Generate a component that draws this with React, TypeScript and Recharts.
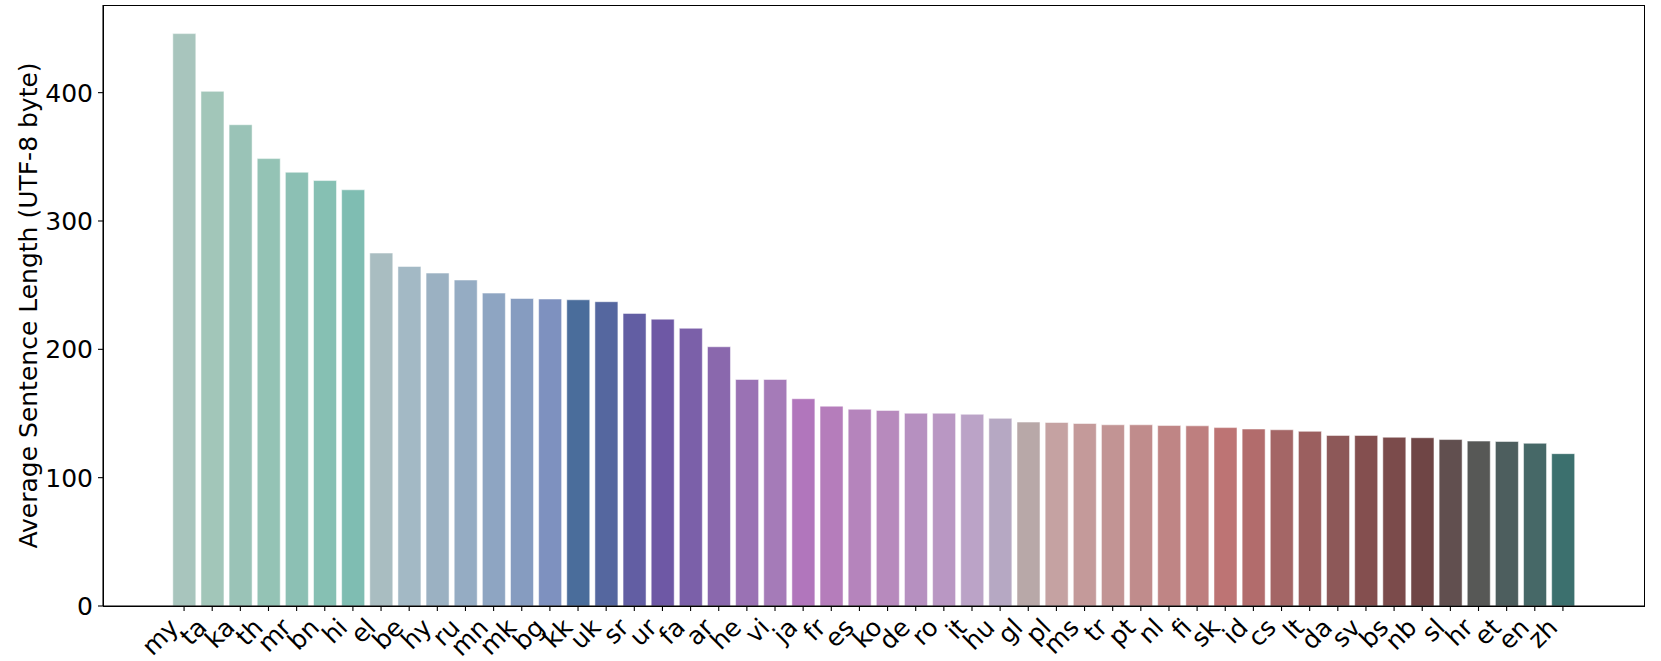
import { Bar, BarChart, Cell, XAxis, YAxis } from "recharts"

const LANGS = [
  "my", "ta", "ka", "th", "mr", "bn", "hi", "el", "be", "hy",
  "ru", "mn", "mk", "bg", "kk", "uk", "sr", "ur", "fa", "ar",
  "he", "vi", "ja", "fr", "es", "ko", "de", "ro", "it", "hu",
  "gl", "pl", "ms", "tr", "pt", "nl", "fi", "sk", "id", "cs",
  "lt", "da", "sv", "bs", "nb", "sl", "hr", "et", "en", "zh",
]

const LENGTHS = [
  446, 401, 375, 348.6, 338, 331.5, 324.3, 275, 264.6, 259.4,
  254, 243.8, 239.6, 239.2, 238.6, 237.1, 228, 223.5, 216.4, 202,
  176.5, 176.5, 161.5, 155.7, 153.3, 152.4, 150.2, 150.2, 149.4, 146.2,
  143.3, 143, 142.2, 141.2, 141.2, 140.6, 140.4, 139, 137.9, 137.3,
  136.1, 132.9, 132.9, 131.5, 131.1, 129.7, 128.5, 128.2, 126.8, 118.7,
]

const Y_TICKS = [0, 100, 200, 300, 400]

const PALETTE = [
  "#a8c5bd", "#a2c6b9", "#9ac3b7", "#94c3b5", "#8cc0b4", "#86c0b3", "#7fbdb2",
  "#a9bdc1", "#a3b9c5", "#9bb1c2", "#95acc3", "#8ea5c2", "#869cc0", "#7e91bf",
  "#4a6d9b", "#55679f", "#625ea3", "#6e58a5", "#7b60a9", "#8a68ad", "#9a72b4",
  "#a57bb8", "#b176bc", "#b57dbb", "#b584bc", "#b78abd", "#b690c0", "#b997c3",
  "#bba3c7", "#b6a8c3", "#b8a8a8", "#c5a2a2", "#c49a9a", "#c29494", "#c08c8c",
  "#bf8585", "#be7f7f", "#bd7474", "#b26c6c", "#a46666", "#9b5f5f", "#8d5858",
  "#844f4f", "#7b4b4b", "#6f4545", "#614f4f", "#575856", "#4d5e5e", "#466867",
  "#3c706e",
]

const FONT = "DejaVu Sans"
const data = LANGS.map((lang, i) => ({ lang, value: LENGTHS[i] }))

// plot box, same numbers as the chart margins / axis sizes below
const PLOT = { left: 103, top: 5, width: 1541, height: 601 }

function LangTick({ x, y, payload }: any) {
  return (
    <g transform={`translate(${x - 4},${y + 13})`}>
      <text
        transform="rotate(-45)"
        textAnchor="end"
        fontFamily={FONT}
        fontSize={25}
        fill="#000"
      >
        {payload.value}
      </text>
    </g>
  )
}

export default function App() {
  return (
    <div style={{ position: "absolute", left: 0, top: 0, background: "#fff" }}>
      <BarChart
        width={1661}
        height={661}
        data={data}
        margin={{ top: PLOT.top, right: 17, bottom: 0, left: 0 }}
        barCategoryGap="10%"
      >
        <XAxis
          dataKey="lang"
          interval={0}
          height={55}
          padding={{ left: 67, right: 67 }}
          tickSize={5}
          tickMargin={5}
          tick={<LangTick />}
          axisLine={{ stroke: "#000", strokeWidth: 1.1 }}
          tickLine={{ stroke: "#000", strokeWidth: 1.1 }}
        />
        <YAxis
          width={PLOT.left}
          domain={[0, 468.3]}
          ticks={Y_TICKS}
          tickSize={5}
          tickMargin={5}
          tick={{ fill: "#000", fontFamily: FONT, fontSize: 25 }}
          axisLine={{ stroke: "#000", strokeWidth: 1.1 }}
          tickLine={{ stroke: "#000", strokeWidth: 1.1 }}
          label={{
            value: "Average Sentence Length (UTF-8 byte)",
            angle: -90,
            position: "insideLeft",
            offset: 28,
            style: { textAnchor: "middle", fontFamily: FONT, fontSize: 25, fill: "#000" },
          }}
        />
        <Bar
          dataKey="value"
          isAnimationActive={false}
          stroke="#ffffff"
          strokeOpacity={0.5}
          strokeWidth={1}
        >
          {data.map((d, i) => (
            <Cell key={d.lang} fill={PALETTE[i]} />
          ))}
        </Bar>
      </BarChart>
      {/* top and right spines */}
      <div
        style={{
          position: "absolute",
          left: PLOT.left - 0.5,
          top: PLOT.top - 0.5,
          width: PLOT.width + 1,
          height: PLOT.height + 1,
          border: "1.1px solid #000",
          boxSizing: "border-box",
          pointerEvents: "none",
        }}
      />
    </div>
  )
}
